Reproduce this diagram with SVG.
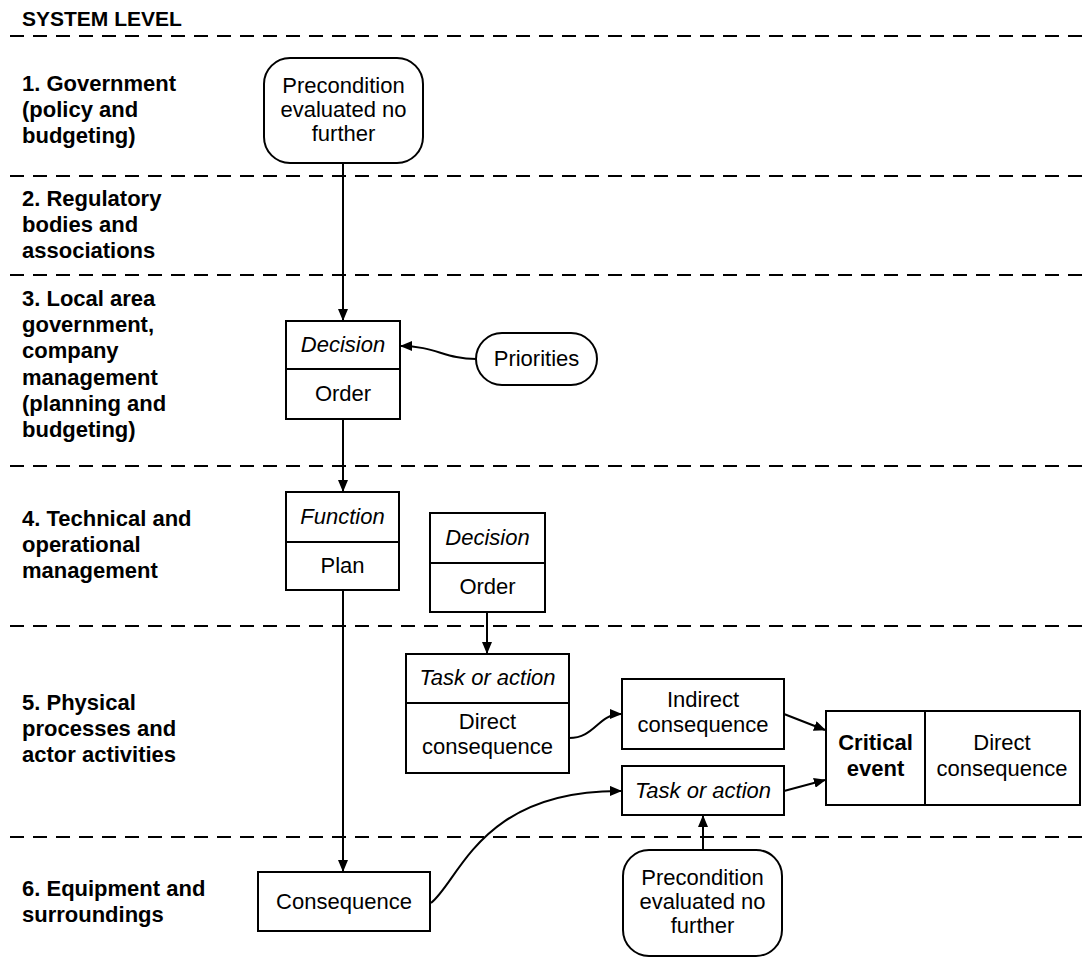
<svg xmlns="http://www.w3.org/2000/svg" width="1083" height="967" viewBox="0 0 1083 967">
<defs>
<marker id="ah" viewBox="0 0 12 10" refX="11" refY="5" markerWidth="12" markerHeight="10" markerUnits="userSpaceOnUse" orient="auto">
<path d="M0,0 L12,5 L0,10 z" fill="#000"/>
</marker>
<style>
.lvl{font-family:"Liberation Sans",Arial,sans-serif;font-size:22px;font-weight:bold;fill:#000}
.t{font-family:"Liberation Sans",Arial,sans-serif;font-size:22px;fill:#000;text-anchor:middle}
.i{font-style:italic}
.b{font-weight:bold}
.box{fill:#fff;stroke:#000;stroke-width:2}
.dash{stroke:#000;stroke-width:2;stroke-dasharray:14 9;fill:none}
.con{stroke:#000;stroke-width:2;fill:none;marker-end:url(#ah)}
</style>
</defs>
<rect width="1083" height="967" fill="#fff"/>
<g id="levels">
<line class="dash" x1="10" y1="36" x2="1083" y2="36"/>
<line class="dash" x1="10" y1="176" x2="1083" y2="176"/>
<line class="dash" x1="10" y1="275" x2="1083" y2="275"/>
<line class="dash" x1="10" y1="466" x2="1083" y2="466"/>
<line class="dash" x1="10" y1="626" x2="1083" y2="626"/>
<line class="dash" x1="10" y1="837" x2="1083" y2="837"/>
<text class="lvl" x="22" y="26" style="font-size:21px">SYSTEM LEVEL</text>
<text class="lvl" x="22" y="91">1. Government</text>
<text class="lvl" x="22" y="117">(policy and</text>
<text class="lvl" x="22" y="143">budgeting)</text>
<text class="lvl" x="22" y="206">2. Regulatory</text>
<text class="lvl" x="22" y="232">bodies and</text>
<text class="lvl" x="22" y="258">associations</text>
<text class="lvl" x="22" y="306">3. Local area</text>
<text class="lvl" x="22" y="332">government,</text>
<text class="lvl" x="22" y="358">company</text>
<text class="lvl" x="22" y="385">management</text>
<text class="lvl" x="22" y="411">(planning and</text>
<text class="lvl" x="22" y="437">budgeting)</text>
<text class="lvl" x="22" y="526">4. Technical and</text>
<text class="lvl" x="22" y="552">operational</text>
<text class="lvl" x="22" y="578">management</text>
<text class="lvl" x="22" y="710">5. Physical</text>
<text class="lvl" x="22" y="736">processes and</text>
<text class="lvl" x="22" y="762">actor activities</text>
<text class="lvl" x="22" y="896">6. Equipment and</text>
<text class="lvl" x="22" y="922">surroundings</text>
</g>
<g id="connectors">
<path class="con" d="M343,163 L343,320"/>
<path class="con" d="M476,359 C445,359 435,346 401,346"/>
<path class="con" d="M343,419 L343,491"/>
<path class="con" d="M487,612 L487,653"/>
<path class="con" d="M343,590 L343,871"/>
<path class="con" d="M569,738 C595,738 598,714 621,714"/>
<path class="con" d="M784,714 L825,730"/>
<path class="con" d="M784,791 L825,780"/>
<path class="con" d="M431,903 C460,880 480,790 621,791"/>
<path class="con" d="M703,850 L703,816"/>
</g>
<g id="precondition1">
<rect class="box" x="264" y="58" width="159" height="105" rx="26"/>
<text class="t" x="343.5" y="93">Precondition</text>
<text class="t" x="343.5" y="117">evaluated no</text>
<text class="t" x="343.5" y="141">further</text>
</g>
<g id="decision1">
<rect class="box" x="286" y="321" width="114" height="98"/>
<line stroke="#000" stroke-width="2" x1="286" y1="369" x2="400" y2="369"/>
<text class="t i" x="343" y="352">Decision</text>
<text class="t" x="343" y="401">Order</text>
</g>
<g id="priorities">
<rect class="box" x="476" y="333" width="121" height="52" rx="26"/>
<text class="t" x="536.5" y="366">Priorities</text>
</g>
<g id="function">
<rect class="box" x="286" y="492" width="113" height="98"/>
<line stroke="#000" stroke-width="2" x1="286" y1="542" x2="399" y2="542"/>
<text class="t i" x="342.5" y="524">Function</text>
<text class="t" x="342.5" y="573">Plan</text>
</g>
<g id="decision2">
<rect class="box" x="430" y="513" width="115" height="99"/>
<line stroke="#000" stroke-width="2" x1="430" y1="563" x2="545" y2="563"/>
<text class="t i" x="487.5" y="545">Decision</text>
<text class="t" x="487.5" y="594">Order</text>
</g>
<g id="task1">
<rect class="box" x="406" y="654" width="163" height="119"/>
<line stroke="#000" stroke-width="2" x1="406" y1="703" x2="569" y2="703"/>
<text class="t i" x="487.5" y="685">Task or action</text>
<text class="t" x="487.5" y="729">Direct</text>
<text class="t" x="487.5" y="754">consequence</text>
</g>
<g id="indirect">
<rect class="box" x="622" y="679" width="162" height="70"/>
<text class="t" x="703" y="707">Indirect</text>
<text class="t" x="703" y="732">consequence</text>
</g>
<g id="critical">
<rect class="box" x="826" y="711" width="254" height="94"/>
<line stroke="#000" stroke-width="2" x1="925" y1="711" x2="925" y2="805"/>
<text class="t b" x="875.5" y="750">Critical</text>
<text class="t b" x="875.5" y="776">event</text>
<text class="t" x="1002" y="750">Direct</text>
<text class="t" x="1002" y="776">consequence</text>
</g>
<g id="task2">
<rect class="box" x="622" y="766" width="162" height="49"/>
<text class="t i" x="703" y="798">Task or action</text>
</g>
<g id="consequence">
<rect class="box" x="258" y="872" width="172" height="59"/>
<text class="t" x="344" y="909">Consequence</text>
</g>
<g id="precondition2">
<rect class="box" x="623" y="850" width="159" height="106" rx="26"/>
<text class="t" x="702.5" y="885">Precondition</text>
<text class="t" x="702.5" y="909">evaluated no</text>
<text class="t" x="702.5" y="933">further</text>
</g>
</svg>
